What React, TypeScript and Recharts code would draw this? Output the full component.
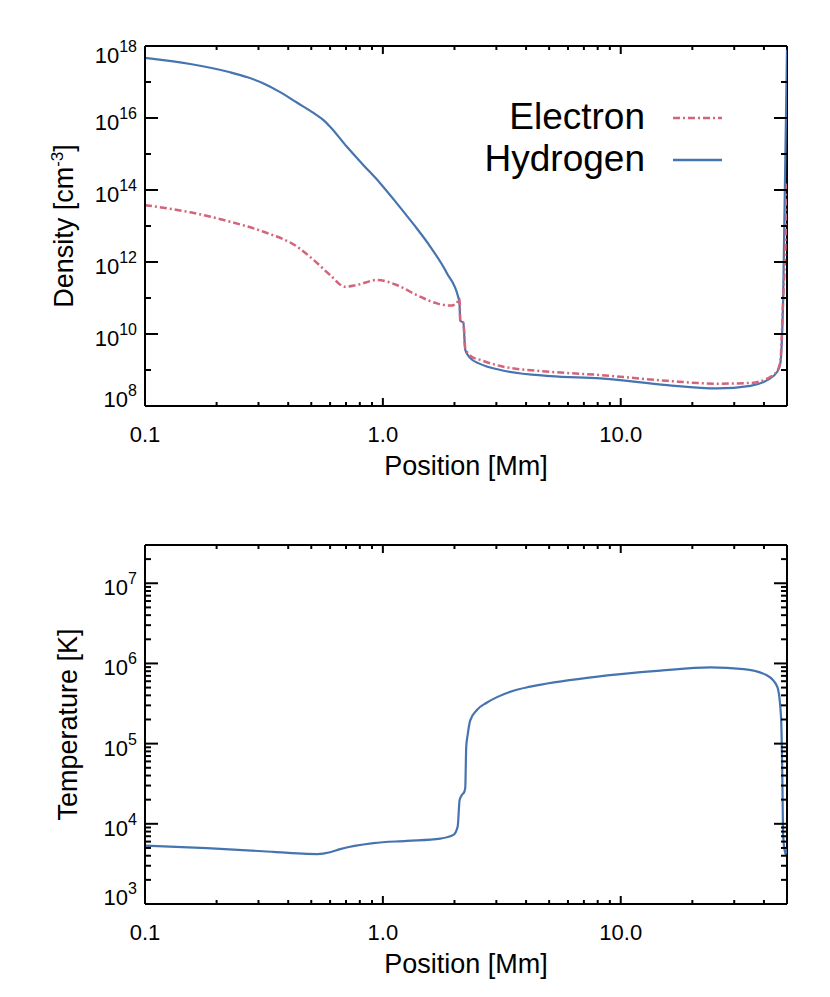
import { LineChart, Line, XAxis, YAxis, Legend, Label, ReferenceLine } from 'recharts';

const FONT = '"Liberation Sans", Arial, sans-serif';
const BLUE = '#4674b0';
const PINK = '#d3647b';

// position [Mm] and log10 density [cm^-3]
const hydrogenX = [0.1, 0.155, 0.228, 0.27, 0.315, 0.37, 0.435, 0.511, 0.563, 0.6, 0.706, 0.829, 0.974, 1.145, 1.345, 1.581, 1.859, 2.08, 2.1, 2.115, 2.18, 2.22, 2.33, 2.56, 3.12, 5.06, 8.2, 15.66, 25.4, 35.1, 41.3, 45.5, 46.9, 48.2, 50];
const hydrogenLogN = [17.67, 17.5, 17.27, 17.13, 16.96, 16.72, 16.43, 16.14, 15.94, 15.76, 15.2, 14.69, 14.19, 13.63, 13.05, 12.43, 11.69, 10.99, 10.85, 10.37, 10.31, 9.56, 9.33, 9.17, 9.0, 8.83, 8.77, 8.58, 8.49, 8.56, 8.72, 8.95, 9.19, 11.04, 17.89];

const electronX = [0.1, 0.155, 0.228, 0.315, 0.435, 0.511, 0.6, 0.694, 0.777, 0.944, 1.145, 1.39, 1.687, 1.919, 2.04, 2.1, 2.115, 2.18, 2.22, 2.36, 2.567, 3.12, 5.06, 8.2, 15.66, 25.4, 35.1, 41.3, 45.5, 46.9, 48.2, 49.4, 50];
const electronLogN = [13.58, 13.38, 13.12, 12.84, 12.43, 12.06, 11.64, 11.31, 11.36, 11.5, 11.36, 11.08, 10.85, 10.79, 10.85, 10.99, 10.37, 10.31, 9.6, 9.37, 9.28, 9.11, 8.95, 8.86, 8.7, 8.62, 8.64, 8.76, 8.98, 9.25, 11.0, 12.7, 14.19];

// position [Mm] and log10 temperature [K], bottom panel
const tempX = [0.1, 0.182, 0.347, 0.479, 0.53, 0.6, 0.661, 0.913, 1.262, 1.742, 1.98, 2.063, 2.102, 2.149, 2.2, 2.22, 2.241, 2.27, 2.33, 2.486, 2.73, 3.02, 3.54, 4.17, 7.69, 14.68, 23.8, 32.9, 41.3, 45.5, 47.2, 47.7, 48.2, 49.3, 50];
const tempLogT = [3.729, 3.697, 3.65, 3.624, 3.622, 3.645, 3.684, 3.759, 3.787, 3.816, 3.862, 3.965, 4.297, 4.36, 4.4, 4.45, 4.96, 5.1, 5.29, 5.42, 5.51, 5.58, 5.66, 5.71, 5.83, 5.91, 5.95, 5.93, 5.85, 5.71, 5.33, 4.75, 3.84, 3.62, 3.7];

const xTicks = [0.1, 0.2, 0.3, 0.4, 0.5, 0.6, 0.7, 0.8, 0.9, 1, 2, 3, 4, 5, 6, 7, 8, 9, 10, 20, 30, 40];
const xMajor = [0.1, 1, 10];
const densityTicks = [1e8, 1e9, 1e10, 1e11, 1e12, 1e13, 1e14, 1e15, 1e16, 1e17, 1e18];
const tempDecades = [1e3, 1e4, 1e5, 1e6];
const mantissas = [1, 2, 3, 4, 5, 6, 7, 8, 9];
const tempTicks = tempDecades.flatMap((d) => mantissas.map((m) => m * d)).concat([1e7, 2e7, 3e7]);
const legendOrder = ['Electron', 'Hydrogen'];

const hydrogenRows = hydrogenX.map((x, i) => ({ x, n: Math.pow(10, hydrogenLogN[i]) }));
const electronRows = electronX.map((x, i) => ({ x, n: Math.pow(10, electronLogN[i]) }));
const tempRows = tempX.map((x, i) => ({ x, t: Math.pow(10, tempLogT[i]) }));

const PLOT_W = 642;
const TOP_H = 360;
const BOT_H = 359;

const exp10 = (v: number) => Math.round(Math.log10(v));
const isPow10 = (v: number) => Math.abs(Math.log10(v) - exp10(v)) < 1e-6;
const evenPow = (v: number) => isPow10(v) && exp10(v) % 2 === 0;

// bottom ticks point up; the same tick is mirrored onto the top edge
function makeXTick(plotH: number) {
  return (p: any) => {
    const v = p.payload.value;
    const major = xMajor.some((m) => Math.abs(m - v) < 1e-9);
    const len = major ? 8 : 4;
    const top = p.y - plotH;
    return (
      <g>
        <line x1={p.x} x2={p.x} y1={p.y} y2={p.y - len} stroke="#000" strokeWidth={2} />
        <line x1={p.x} x2={p.x} y1={top} y2={top + len} stroke="#000" strokeWidth={2} />
        {major && (
          <text x={p.x} y={p.y + 36} textAnchor="middle" fontSize={22} fontFamily={FONT} fill="#000">
            {v.toFixed(1)}
          </text>
        )}
      </g>
    );
  };
}

function makeYTick(isMajor: (v: number) => boolean, lo: number, hi: number) {
  return (p: any) => {
    const v = p.payload.value;
    const major = isMajor(v);
    const len = major ? 13 : 6;
    const right = p.x + PLOT_W;
    // end labels are pushed inside the axis range
    let base = 12;
    if (Math.abs(v - lo) / lo < 1e-6) base = 1;
    if (Math.abs(v - hi) / hi < 1e-6) base = 17;
    return (
      <g>
        <line x1={p.x} x2={p.x + len} y1={p.y} y2={p.y} stroke="#000" strokeWidth={2} />
        <line x1={right} x2={right - len} y1={p.y} y2={p.y} stroke="#000" strokeWidth={2} />
        {major && (
          <text x={p.x - 8} y={p.y + base} textAnchor="end" fontFamily={FONT} fill="#000">
            <tspan fontSize={22}>10</tspan>
            <tspan fontSize={16} dy={-11}>{exp10(v)}</tspan>
          </text>
        )}
      </g>
    );
  };
}

function xTitle({ viewBox }: any) {
  return (
    <text x={viewBox.x + viewBox.width / 2} y={viewBox.y + 69} textAnchor="middle" fontSize={27} fontFamily={FONT} fill="#000">
      Position [Mm]
    </text>
  );
}

function yTitle(text: string, sup: string | null, bx: number) {
  return ({ viewBox }: any) => {
    const cy = viewBox.y + viewBox.height / 2;
    return (
      <text x={bx} y={cy} transform={`rotate(-90 ${bx} ${cy})`} textAnchor="middle" fontSize={27} fontFamily={FONT} fill="#000">
        {text}
        {sup && <tspan fontSize={17} dy={-10}>{sup}</tspan>}
        {sup && <tspan dy={10}>]</tspan>}
      </text>
    );
  };
}

function renderLegend(props: any) {
  const items = [...(props.payload ?? [])].sort((a, b) => legendOrder.indexOf(a.value) - legendOrder.indexOf(b.value));
  return (
    <svg width={270} height={100}>
      {items.map((it: any, i: number) => {
        const cy = 28 + i * 42;
        return (
          <g key={it.value}>
            <text x={175} y={cy + 11} textAnchor="end" fontSize={37} fontFamily={FONT} fill="#000">{it.value}</text>
            <line x1={203} x2={252} y1={cy} y2={cy} stroke={it.color} strokeWidth={2.5} strokeDasharray={it.payload?.strokeDasharray} />
          </g>
        );
      })}
    </svg>
  );
}

const axisLine = { stroke: '#000', strokeWidth: 2 };

export default function App() {
  return (
    <div style={{ position: 'absolute', left: 0, top: 0, width: 830, height: 997, background: '#fff' }}>
      <div style={{ position: 'absolute', left: 0, top: 0 }}>
        <LineChart width={830} height={500} margin={{ top: 46, right: 43, bottom: 0, left: 0 }}>
          <XAxis dataKey="x" type="number" scale="log" domain={[0.1, 50]} allowDataOverflow ticks={xTicks} interval={0}
            height={94} tickSize={0} tickMargin={0} tickLine={false} axisLine={axisLine} tick={makeXTick(TOP_H)}>
            <Label content={xTitle} />
          </XAxis>
          <YAxis type="number" scale="log" domain={[1e8, 1e18]} allowDataOverflow ticks={densityTicks} interval={0}
            width={145} tickSize={0} tickMargin={0} tickLine={false} axisLine={axisLine} tick={makeYTick(evenPow, 1e8, 1e18)}>
            <Label content={yTitle('Density [cm', '-3', 73)} />
          </YAxis>
          <ReferenceLine y={1e18} stroke="#000" strokeWidth={2} />
          <ReferenceLine x={50} stroke="#000" strokeWidth={2} />
          <Line data={hydrogenRows} dataKey="n" name="Hydrogen" type="monotone" stroke={BLUE} strokeWidth={2.2} dot={false} isAnimationActive={false} />
          <Line data={electronRows} dataKey="n" name="Electron" type="monotone" stroke={PINK} strokeWidth={2.5} strokeDasharray="7 3 2 3" dot={false} isAnimationActive={false} />
          <Legend layout="horizontal" verticalAlign="middle" align="center" width={270} height={100} content={renderLegend}
            wrapperStyle={{ position: 'absolute', left: 470, top: 90, width: 270, height: 100 }} />
        </LineChart>
      </div>
      <div style={{ position: 'absolute', left: 0, top: 500 }}>
        <LineChart width={830} height={497} margin={{ top: 45, right: 43, bottom: 0, left: 0 }}>
          <XAxis dataKey="x" type="number" scale="log" domain={[0.1, 50]} allowDataOverflow ticks={xTicks} interval={0}
            height={93} tickSize={0} tickMargin={0} tickLine={false} axisLine={axisLine} tick={makeXTick(BOT_H)}>
            <Label content={xTitle} />
          </XAxis>
          <YAxis type="number" scale="log" domain={[1e3, 3e7]} allowDataOverflow ticks={tempTicks} interval={0}
            width={145} tickSize={0} tickMargin={0} tickLine={false} axisLine={axisLine} tick={makeYTick(isPow10, 1e3, 3e7)}>
            <Label content={yTitle('Temperature [K]', null, 77)} />
          </YAxis>
          <ReferenceLine y={3e7} stroke="#000" strokeWidth={2} />
          <ReferenceLine x={50} stroke="#000" strokeWidth={2} />
          <Line data={tempRows} dataKey="t" name="Temperature" type="monotone" stroke={BLUE} strokeWidth={2.2} dot={false} isAnimationActive={false} />
        </LineChart>
      </div>
    </div>
  );
}
